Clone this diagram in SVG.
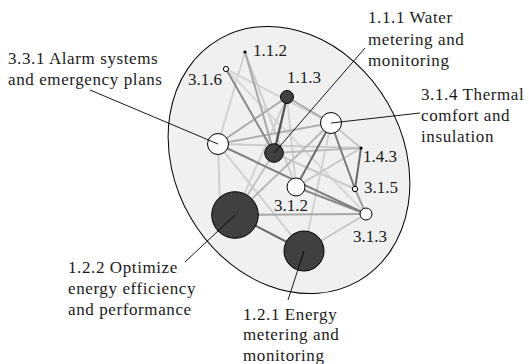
<svg xmlns="http://www.w3.org/2000/svg" width="529" height="364" viewBox="0 0 529 364">
<style>
text{font-family:"Liberation Serif","Times New Roman",serif;font-size:17px;fill:#1a1a1a}
.d{letter-spacing:0.6px}
.e{fill:none;stroke-width:2;stroke-linecap:round}
.l{stroke:#000;stroke-width:0.9;fill:none}
.o{fill:#fff;stroke:#000;stroke-width:1}
.f{fill:#404040;stroke:#000;stroke-width:1}
.p{fill:#000}
</style>
<rect width="529" height="364" fill="#fff"/>
<ellipse cx="0" cy="0" rx="139.5" ry="114" transform="translate(289,160) rotate(60)" fill="#f0f0f0" stroke="#000" stroke-width="1"/>
<g id="edges" class="e">
<line x1="245" y1="52" x2="218" y2="144" stroke="#d2d2d2"/>
<line x1="226" y1="69" x2="331" y2="123" stroke="#d4d4d4"/>
<line x1="245" y1="52" x2="296" y2="187" stroke="#cdcdcd"/>
<line x1="226" y1="69" x2="366" y2="214" stroke="#d8d8d8"/>
<line x1="287" y1="97" x2="296" y2="187" stroke="#d2d2d2"/>
<line x1="287" y1="97" x2="235" y2="215" stroke="#d2d2d2"/>
<line x1="218" y1="144" x2="220" y2="205" stroke="#d0d0d0"/>
<line x1="218" y1="144" x2="304" y2="251" stroke="#d2d2d2"/>
<line x1="218" y1="144" x2="361" y2="148" stroke="#cbcbcb"/>
<line x1="331" y1="123" x2="304" y2="251" stroke="#d2d2d2"/>
<line x1="274" y1="153" x2="355" y2="189" stroke="#cacaca"/>
<line x1="296" y1="187" x2="361" y2="148" stroke="#c8c8c8"/>
<line x1="331" y1="123" x2="361" y2="148" stroke="#c8c8c8"/>
<line x1="304" y1="251" x2="366" y2="214" stroke="#c8c8c8"/>
<line x1="274" y1="153" x2="235" y2="215" stroke="#c4c4c4"/>
<line x1="274" y1="153" x2="361" y2="148" stroke="#bcbcbc"/>
<line x1="235" y1="215" x2="331" y2="123" stroke="#b8b8b8"/>
<line x1="218" y1="144" x2="331" y2="123" stroke="#b0b0b0"/>
<line x1="218" y1="144" x2="287" y2="97" stroke="#aaaaaa"/>
<line x1="287" y1="97" x2="331" y2="123" stroke="#aaaaaa"/>
<line x1="245" y1="52" x2="274" y2="153" stroke="#a8a8a8"/>
<line x1="235" y1="215" x2="366" y2="214" stroke="#a8a8a8"/>
<line x1="355" y1="189" x2="366" y2="214" stroke="#a0a0a0"/>
<line x1="226" y1="69" x2="274" y2="153" stroke="#8a8a8a"/>
<line x1="296" y1="187" x2="366" y2="214" stroke="#888888"/>
<line x1="218" y1="144" x2="366" y2="214" stroke="#808080"/>
<line x1="331" y1="123" x2="355" y2="189" stroke="#7a7a7a"/>
<line x1="331" y1="123" x2="296" y2="187" stroke="#6e6e6e"/>
<line x1="361" y1="148" x2="355" y2="189" stroke="#6a6a6a"/>
<line x1="235" y1="215" x2="304" y2="251" stroke="#6a6a6a"/>
<line x1="287" y1="97" x2="274" y2="153" stroke="#555555" stroke-width="2.3"/>
</g>
<g id="n112"><circle class="p" cx="245" cy="52" r="1.6"/><text x="253" y="56">1.1.2</text></g>
<g id="n316"><circle class="o" cx="226" cy="69" r="2.6"/><text x="222" y="85" text-anchor="end">3.1.6</text></g>
<g id="n113"><circle class="f" cx="287" cy="97" r="6.5"/><text x="287" y="83">1.1.3</text></g>
<g id="n143"><circle class="p" cx="361" cy="148" r="1.6"/><text x="363" y="162">1.4.3</text></g>
<g id="n315"><circle class="o" cx="355" cy="189" r="2.7"/><text x="364" y="193">3.1.5</text></g>
<g id="n313"><circle class="o" cx="366" cy="214" r="6"/><text x="353" y="242">3.1.3</text></g>
<g id="n312"><circle class="o" cx="296" cy="187" r="9"/><text x="274" y="211">3.1.2</text></g>
<g id="n331"><circle class="o" cx="218" cy="144" r="10.5"/><line class="l" x1="218" y1="144" x2="90" y2="90"/><text class="d" x="8" y="64">3.3.1 Alarm systems</text><text class="d" x="8" y="85">and emergency plans</text></g>
<g id="n111"><circle class="f" cx="274" cy="153" r="9.3"/><line class="l" x1="274" y1="153" x2="365" y2="48"/><text class="d" x="368" y="23">1.1.1 Water</text><text class="d" x="368" y="44.5">metering and</text><text class="d" x="368" y="66">monitoring</text></g>
<g id="n314"><circle class="o" cx="331" cy="123" r="10.5"/><line class="l" x1="331" y1="123" x2="420" y2="113"/><text class="d" x="421" y="99.5">3.1.4 Thermal</text><text class="d" x="421" y="121">comfort and</text><text class="d" x="421" y="142">insulation</text></g>
<g id="n122"><circle class="f" cx="235" cy="215" r="23.3"/><line class="l" x1="235" y1="215" x2="185" y2="262"/><text class="d" x="68" y="273">1.2.2 Optimize</text><text class="d" x="68" y="294">energy efficiency</text><text class="d" x="68" y="315">and performance</text></g>
<g id="n121"><circle class="f" cx="304" cy="251" r="20"/><line class="l" x1="304" y1="251" x2="288" y2="300"/><text class="d" x="243" y="319.5">1.2.1 Energy</text><text class="d" x="243" y="340">metering and</text><text class="d" x="243" y="361">monitoring</text></g>
</svg>
